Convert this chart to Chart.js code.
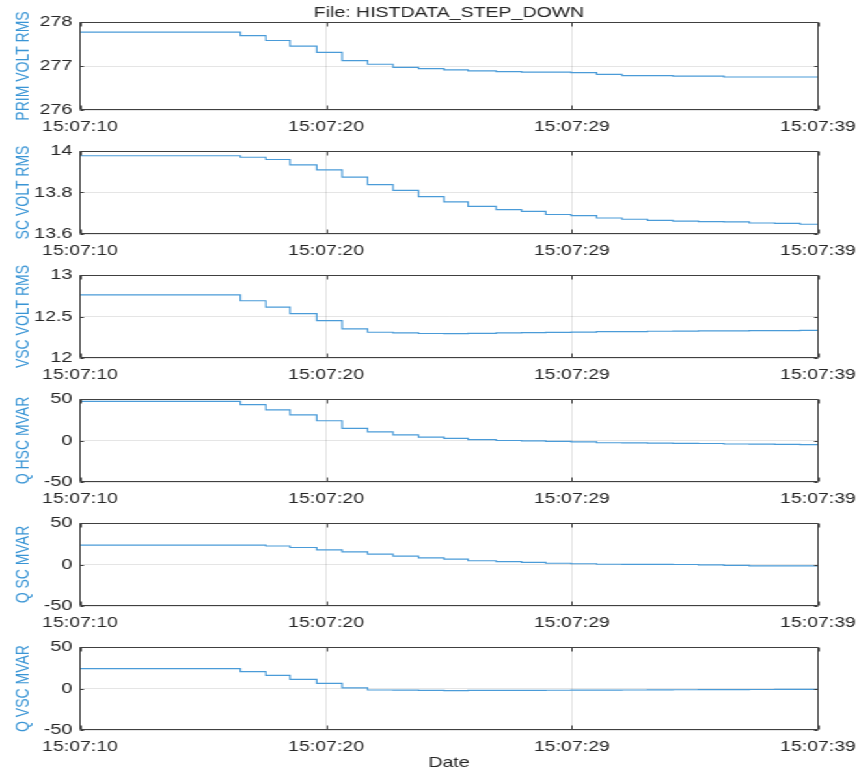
<!DOCTYPE html>
<html lang="en">
<head>
<meta charset="utf-8">
<title>HISTDATA_STEP_DOWN</title>
<script src="https://cdn.jsdelivr.net/npm/chart.js"></script>
<style>
  body { margin: 0; background: #fff; }
  /* the figure is drawn 660 wide and stretched to 859, like the reference */
  #fig { position: relative; width: 660px; height: 772px; transform: scaleX(1.3015); transform-origin: 0 0; }
  #fig canvas { position: absolute; left: 0; }
</style>
</head>
<body>
<div id="fig"></div>
<script>
  // seconds after 15:07:10 where the steps happen
  const timeSec = [0, 6.3, 7.3, 8.25, 9.3, 10.3, 11.3, 12.3, 13.3, 14.3, 15.25, 16.35, 17.35,
                   18.3, 19.3, 20.3, 21.3, 22.3, 23.3, 24.3, 25.3, 26.3, 27.3, 28.3, 29];
  const xTickSec = [0, 9.67, 19.33, 29];
  const xTickLabels = ['15:07:10', '15:07:20', '15:07:29', '15:07:39'];

  const primVoltRms = [277.77, 277.69, 277.58, 277.45, 277.31, 277.12, 277.04, 276.97, 276.94, 276.91,
                       276.89, 276.87, 276.86, 276.86, 276.85, 276.81, 276.78, 276.78, 276.77, 276.77,
                       276.75, 276.75, 276.75, 276.75, 276.75];
  const scVoltRms = [13.977, 13.970, 13.959, 13.933, 13.909, 13.874, 13.838, 13.810, 13.780, 13.755,
                     13.733, 13.717, 13.709, 13.694, 13.689, 13.677, 13.671, 13.666, 13.662, 13.660,
                     13.658, 13.653, 13.651, 13.647, 13.647];
  const vscVoltRms = [12.761, 12.690, 12.614, 12.534, 12.451, 12.352, 12.310, 12.303, 12.295, 12.293,
                      12.297, 12.302, 12.305, 12.308, 12.312, 12.318, 12.318, 12.322, 12.324, 12.326,
                      12.328, 12.330, 12.331, 12.333, 12.333];
  const qHscMvar = [47.1, 43.3, 36.9, 30.9, 23.8, 14.7, 10.5, 6.8, 4.1, 2.6, 1.1, 0, -0.5, -1.1, -1.6,
                    -2.7, -2.9, -3.1, -3.4, -3.6, -4.2, -4.4, -4.6, -5.0, -5.0];
  const qScMvar = [23.4, 23.4, 22.3, 20.5, 17.7, 15.1, 12.5, 10.2, 8.0, 6.4, 4.5, 3.4, 2.5, 1.5, 0.9,
                   0.3, 0.2, 0.1, 0, -0.5, -1.1, -1.6, -1.7, -1.7, -1.7];
  const qVscMvar = [24.0, 20.4, 15.8, 11.0, 6.1, 0.8, -1.8, -2.0, -2.3, -2.5, -2.3, -2.3, -2.2, -2.1,
                    -2.0, -1.9, -1.8, -1.7, -1.5, -1.4, -1.3, -1.2, -1.1, -1.0, -1.0];

  const panels = [
    { label: 'PRIM VOLT RMS', values: primVoltRms, min: 276, max: 278, step: 1 },
    { label: 'SC VOLT RMS', values: scVoltRms, min: 13.6, max: 14, step: 0.2 },
    { label: 'VSC VOLT RMS', values: vscVoltRms, min: 12, max: 13, step: 0.5 },
    { label: 'Q HSC MVAR', values: qHscMvar, min: -50, max: 50, step: 50 },
    { label: 'Q SC MVAR', values: qScMvar, min: -50, max: 50, step: 50 },
    { label: 'Q VSC MVAR', values: qVscMvar, min: -50, max: 50, step: 50 }
  ];

  const W = 660;
  const plotLeft = 61.5, plotRight = 628.5;
  const tops = [0, 136, 260, 384, 508, 632];
  const heights = [136, 124, 124, 124, 124, 140];
  const ink = '#262626';
  const gridColor = 'rgba(0,0,0,0.1)';

  Chart.defaults.font.family = "'Liberation Sans', Arial, sans-serif";
  Chart.defaults.font.size = 15;
  Chart.defaults.color = ink;

  // axes box with small inward ticks, matlab style
  const boxPlugin = {
    id: 'box',
    afterDatasetsDraw(chart) {
      const { ctx, chartArea: a, scales: { x, y } } = chart;
      const x0 = Math.floor(a.left) + 0.5, x1 = Math.floor(a.right) + 0.5;
      const y0 = Math.floor(a.top) + 0.5, y1 = Math.floor(a.bottom) - 0.5;
      ctx.save();
      ctx.strokeStyle = '#404040';
      ctx.lineWidth = 1;
      ctx.beginPath();
      x.ticks.forEach(t => {
        const px = Math.round(x.getPixelForValue(t.value)) + 0.5;
        ctx.moveTo(px, y1); ctx.lineTo(px, y1 - 4);
        ctx.moveTo(px, y0); ctx.lineTo(px, y0 + 4);
      });
      y.ticks.forEach(t => {
        const py = Math.round(y.getPixelForValue(t.value)) + 0.5;
        ctx.moveTo(x0, py); ctx.lineTo(x0 + 3, py);
        ctx.moveTo(x1, py); ctx.lineTo(x1 - 3, py);
      });
      ctx.rect(x0, y0, x1 - x0, y1 - y0);
      ctx.stroke();
      ctx.restore();
    }
  };

  const fig = document.getElementById('fig');

  panels.forEach((p, i) => {
    const first = i === 0, last = i === panels.length - 1;
    const canvas = document.createElement('canvas');
    canvas.width = W;
    canvas.height = heights[i];
    canvas.style.top = tops[i] + 'px';
    fig.appendChild(canvas);

    new Chart(canvas, {
      type: 'line',
      data: {
        datasets: [{
          data: timeSec.map((t, k) => ({ x: t, y: p.values[k] })),
          borderColor: '#4a9bd8',
          borderWidth: 1.2,
          pointRadius: 0,
          stepped: true,
          fill: false
        }]
      },
      options: {
        responsive: false,
        animation: false,
        layout: { padding: { top: first ? 0 : 10, left: 0, right: W - plotRight, bottom: 0 } },
        plugins: {
          legend: { display: false },
          tooltip: { enabled: false },
          title: {
            display: first,
            text: 'File: HISTDATA_STEP_DOWN',
            fullSize: false,
            color: ink,
            font: { size: 15, weight: 'normal' },
            padding: { top: 4, bottom: 0 }
          }
        },
        scales: {
          x: {
            type: 'linear',
            min: 0,
            max: 29,
            afterBuildTicks: s => { s.ticks = xTickSec.map(v => ({ value: v })); },
            afterFit: s => {
              s.height = last ? 42 : 26;
              s.paddingLeft = 0;
              s.paddingRight = 0;
            },
            ticks: {
              autoSkip: false,
              maxRotation: 0,
              padding: 8,
              callback: (v, k) => xTickLabels[k]
            },
            grid: { color: gridColor, drawTicks: false },
            border: { display: false },
            title: {
              display: last,
              text: 'Date',
              color: ink,
              font: { size: 15 },
              padding: { top: 0, bottom: 0 }
            }
          },
          y: {
            min: p.min,
            max: p.max,
            afterFit: s => { s.width = plotLeft; },
            ticks: {
              stepSize: p.step,
              padding: 6,
              callback: v => String(+v.toFixed(2))
            },
            grid: { color: gridColor, drawTicks: false },
            border: { display: false },
            title: {
              display: true,
              text: p.label,
              color: '#3a95d5',
              font: { size: 14 },
              padding: { top: 10, bottom: 0 }
            }
          }
        }
      },
      plugins: [boxPlugin]
    });
  });
</script>
</body>
</html>
